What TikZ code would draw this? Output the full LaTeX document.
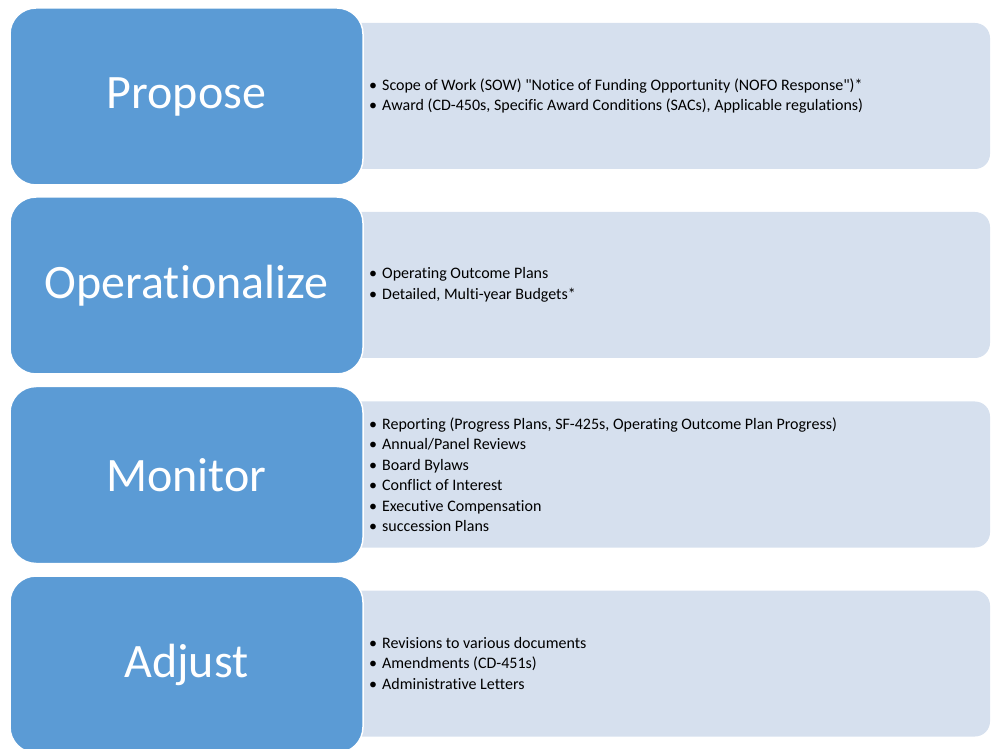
\documentclass[tikz,border=0pt]{standalone}
\usepackage{fontspec}
\setmainfont[Ligatures={NoCommon}]{Carlito}
\newfontfamily\plainqfont[Ligatures={NoCommon}]{Carlito}
\definecolor{stepblue}{HTML}{5B9BD5}
\definecolor{panelfill}{HTML}{D6E0EE}
\newcommand{\qd}{{\plainqfont"}}
\newcommand{\bul}{\textbullet\hspace{5pt}}
\begin{document}
\begin{tikzpicture}[x=1pt,y=1pt,
  phase/.style={draw=white,line width=1.5pt,fill=stepblue,rounded corners=26pt,
    minimum width=353pt,minimum height=177pt,text=white,
    font=\fontsize{48}{54}\selectfont,inner sep=0pt},
  panel/.style={fill=panelfill,draw=none,rounded corners=15pt,
    minimum width=690pt,minimum height=146pt,inner sep=0pt},
  items/.style={anchor=west,align=left,inner sep=0pt,
    font=\fontsize{16}{20.5}\selectfont}]
\useasboundingbox (0,0) rectangle (991,748);
\clip (0,0) rectangle (991,748);
% panels
\node[panel] (p1) at (645,652) {};
\node[panel] (p2) at (645,463) {};
\node[panel] (p3) at (645,273.5) {};
\node[panel] (p4) at (645,84.5) {};
% phase boxes
\node[phase] (b1) at (186.5,651.5) {Propose};
\node[phase] (b2) at (186.5,462.5) {Operationalize};
\node[phase] (b3) at (186.5,273) {Monitor};
\node[phase] (b4) at (186.5,83.5) {Adjust};
% bullet lists
\node[items] (t1) at (369,652) {\bul Scope of Work (SOW) \qd Notice of Funding Opportunity (NOFO Response\qd)*\\
\bul Award (CD-450s, Specific Award Conditions (SACs), Applicable regulations)};
\node[items] (t2) at (369,463) {\bul Operating Outcome Plans\\
\bul Detailed, Multi-year Budgets*};
\node[items] (t3) at (369,273.5) {\bul Reporting (Progress Plans, SF-425s, Operating Outcome Plan Progress)\\
\bul Annual/Panel Reviews\\
\bul Board Bylaws\\
\bul Conflict of Interest\\
\bul Executive Compensation\\
\bul succession Plans};
\node[items] (t4) at (369,84.5) {\bul Revisions to various documents\\
\bul Amendments (CD-451s)\\
\bul Administrative Letters};
\end{tikzpicture}
\end{document}
